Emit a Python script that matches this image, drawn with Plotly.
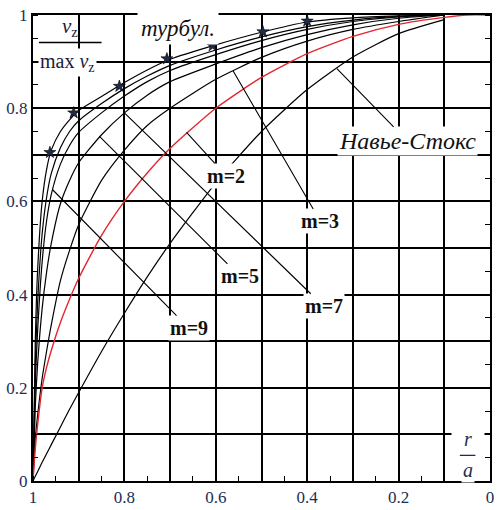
import plotly.graph_objects as go

# ---------------- data ----------------
R_A = [1.0, 0.995, 0.99, 0.98, 0.97, 0.96, 0.94, 0.92, 0.9, 0.85, 0.8, 0.75,
       0.7, 0.6, 0.5, 0.4, 0.3, 0.2, 0.1]

V_TURB = [0, 0.30, 0.45, 0.60, 0.67, 0.71, 0.75, 0.775, 0.795, 0.825, 0.855, 0.882,
          0.905, 0.936, 0.963, 0.985, 0.994, 0.998, 1.0]
V_M9 = [0, 0.25, 0.38, 0.53, 0.61, 0.66, 0.715, 0.75, 0.773, 0.81, 0.842, 0.869,
        0.892, 0.925, 0.953, 0.975, 0.989, 0.997, 1.0]
V_M7 = [0, 0.21, 0.32, 0.47, 0.56, 0.615, 0.68, 0.72, 0.748, 0.79, 0.826, 0.857,
        0.881, 0.915, 0.945, 0.969, 0.986, 0.996, 1.0]
V_M5 = [0, 0.16, 0.25, 0.37, 0.45, 0.51, 0.595, 0.645, 0.683, 0.743, 0.79, 0.828,
        0.857, 0.895, 0.93, 0.958, 0.979, 0.993, 1.0]
V_M3 = [0, 0.09, 0.14, 0.22, 0.28, 0.335, 0.43, 0.495, 0.55, 0.645, 0.71, 0.763,
        0.80, 0.862, 0.909, 0.944, 0.969, 0.986, 1.0]
R_A_M2 = R_A + [0.05, 0.0]
V_M2 = [0, 0.07, 0.12, 0.20, 0.245, 0.28, 0.34, 0.39, 0.435, 0.527, 0.60, 0.661,
        0.714, 0.80, 0.866, 0.917, 0.954, 0.98, 0.995, 1.0, 1.0]
V_NS = [0, 0.01, 0.02, 0.04, 0.059, 0.078, 0.116, 0.154, 0.19, 0.278, 0.36, 0.438,
        0.51, 0.64, 0.75, 0.84, 0.91, 0.96, 0.99]

STAR_X = [0.963, 0.911, 0.811, 0.707, 0.607, 0.497, 0.4]
STAR_Y = [0.705, 0.79, 0.847, 0.906, 0.934, 0.964, 0.987]

LABEL_TICKS = [0.0, 0.2, 0.4, 0.6, 0.8, 1.0]
LABEL_TEXT = ["0", "0.2", "0.4", "0.6", "0.8", "1"]
GRID_ONLY = [0.1, 0.3, 0.5, 0.7, 0.9]

# ---------------- figure ----------------
fig = go.Figure()
for v in [V_TURB, V_M9, V_M7, V_M5, V_M3]:
    fig.add_trace(go.Scatter(x=R_A, y=v, mode="lines",
                             line=dict(color="black", width=1.2, shape="spline", smoothing=0.6),
                             hoverinfo="skip"))
fig.add_trace(go.Scatter(x=R_A_M2, y=V_M2, mode="lines",
                         line=dict(color="#e3262e", width=1.4, shape="spline", smoothing=0.6)))
fig.add_trace(go.Scatter(x=R_A, y=V_NS, mode="lines",
                         line=dict(color="black", width=1.2, shape="spline", smoothing=0.6)))
fig.add_trace(go.Scatter(x=STAR_X, y=STAR_Y, mode="markers",
                         marker=dict(symbol="star", size=9, color="#1f2c4a",
                                     line=dict(color="black", width=0.6))))
# helper trace for secondary grid axes (no visible marks)
fig.add_trace(go.Scatter(x=[None], y=[None], xaxis="x2", yaxis="y2", mode="lines",
                         hoverinfo="skip"))

serif = '"Liberation Serif", "Times New Roman", "DejaVu Serif", serif'
tickfont = dict(family=serif, size=17, color="#1c2e55")
main_axis = dict(
    tickvals=LABEL_TICKS, ticktext=LABEL_TEXT, tickfont=tickfont,
    showgrid=True, gridcolor="black", gridwidth=1.5,
    showline=True, linecolor="black", linewidth=2,
    zeroline=False, ticks="",
    minor=dict(dtick=0.05, ticks="inside", ticklen=5, tickcolor="black", tickwidth=1.2,
               showgrid=False),
)
grid_axis = dict(tickvals=GRID_ONLY, showticklabels=False, showgrid=True,
                 gridcolor="black", gridwidth=1.5, zeroline=False, ticks="",
                 showline=False)

ann = []
labb = dict(family=serif, size=20, color="#111111")

def leader(text, lx, ly, tx, ty, font, bg="white"):
    ann.append(dict(text=text, x=tx, y=ty, ax=lx, ay=ly, xref="x", yref="y",
                    axref="x", ayref="y", showarrow=True, arrowhead=0,
                    arrowwidth=1.1, arrowcolor="black", font=font,
                    bgcolor=bg, borderpad=1))

leader("<b>m=2</b>", 0.577, 0.655, 0.664, 0.748, labb)
leader("<b>m=3</b>", 0.371, 0.557, 0.562, 0.880, labb)
leader("<b>m=5</b>", 0.547, 0.439, 0.855, 0.740, labb)
leader("<b>m=7</b>", 0.364, 0.375, 0.800, 0.790, labb)
leader("<b>m=9</b>", 0.659, 0.328, 0.957, 0.625, labb)
leader("<i>Навье-Стокс</i>", 0.180, 0.729, 0.335, 0.885,
       dict(family=serif, size=24, color="#111111"))

ann.append(dict(text="<i>турбул.</i>", x=0.683, y=0.970, xref="x", yref="y",
                showarrow=False, font=dict(family=serif, size=23, color="#111111"),
                bgcolor="white", borderpad=3))
ann.append(dict(text="<i>v</i><sub>z</sub>", x=0.92, y=0.975, xref="x", yref="y",
                showarrow=False, font=dict(family=serif, size=21, color="#1a1a3a")))
ann.append(dict(text="max <i>v</i><sub>z</sub>", x=0.924, y=0.898, xref="x", yref="y",
                showarrow=False, font=dict(family=serif, size=20, color="#1a1a3a"),
                bgcolor="white", borderpad=1))
ann.append(dict(text="<i>r</i>", x=0.048, y=0.090, xref="x", yref="y", width=30,
                showarrow=False, font=dict(family=serif, size=20, color="#1c2e55"),
                bgcolor="white"))
ann.append(dict(text="<i>a</i>", x=0.048, y=0.024, xref="x", yref="y",
                showarrow=False, font=dict(family=serif, size=20, color="#1c2e55"),
                bgcolor="white"))

shapes = [
    dict(type="line", xref="x", yref="y", x0=0.987, x1=0.850, y0=0.941, y1=0.941,
         line=dict(color="black", width=1.5)),
    dict(type="line", xref="x", yref="y", x0=0.066, x1=0.032, y0=0.055, y1=0.055,
         line=dict(color="#1c2e55", width=1.3)),
]

fig.update_layout(
    width=497, height=510,
    margin=dict(l=33, r=3, t=15, b=23),
    paper_bgcolor="white", plot_bgcolor="white",
    showlegend=False,
    xaxis=dict(range=[1, 0], mirror=True, **main_axis),
    yaxis=dict(range=[0, 1], mirror="ticks", **main_axis),
    xaxis2=dict(range=[1, 0], overlaying="x", anchor="y", matches="x", **grid_axis),
    yaxis2=dict(range=[0, 1], overlaying="y", anchor="x", matches="y", **grid_axis),
    annotations=ann, shapes=shapes,
)

fig.write_html("out.html")
